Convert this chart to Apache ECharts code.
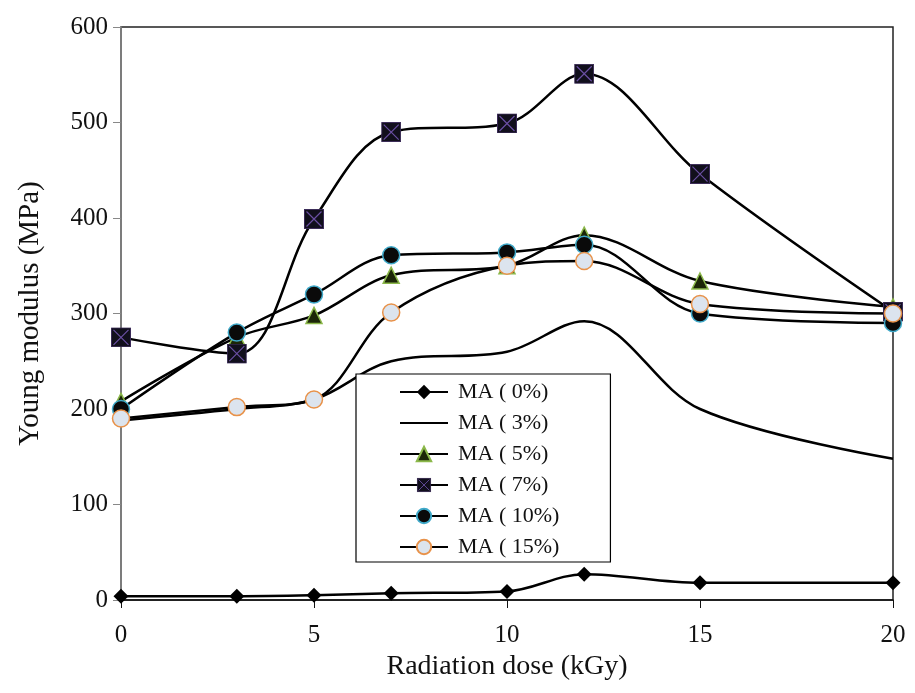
<!DOCTYPE html>
<html>
<head>
<meta charset="utf-8">
<script src="https://cdn.jsdelivr.net/npm/echarts@6/dist/echarts.min.js"></script>
<style>
  html, body { margin: 0; padding: 0; background: #fff; }
  #chart { width: 915px; height: 693px; }
</style>
</head>
<body>
<div id="chart"></div>
<script>
const doses = [0, 3, 5, 7, 10, 12, 15, 20]
const seriesNames = ['MA ( 0%)', 'MA ( 3%)', 'MA ( 5%)', 'MA ( 7%)', 'MA ( 10%)', 'MA ( 15%)']
const ma0 = [4, 4, 5, 7, 9, 27, 18, 18]
const ma3 = [188, 200, 210, 250, 260, 292, 200, 148]
const ma5 = [208, 275, 298, 340, 350, 382, 334, 307]
const ma7 = [275, 258, 399, 490, 499, 551, 446, 302]
const ma10 = [200, 280, 320, 361, 364, 372, 300, 290]
const ma15 = [190, 202, 210, 301, 350, 355, 310, 300]
const xTicks = [0, 5, 10, 15, 20]
const yTicks = [0, 100, 200, 300, 400, 500, 600]

const serif = '"Liberation Serif", "Times New Roman", serif'

// square with an X, drawn as a tiny svg
const squareSvg =
  "<svg xmlns='http://www.w3.org/2000/svg' width='20' height='20'>" +
  "<rect x='0.5' y='0.5' width='19' height='19' fill='#110f1c' stroke='#3a2a58'/>" +
  "<path d='M2.5 2.5L17.5 17.5M17.5 2.5L2.5 17.5' stroke='#6a4fa3' stroke-width='1.2'/></svg>"
const squareSymbol = 'image://data:image/svg+xml;charset=utf-8,' + encodeURIComponent(squareSvg)

function pairs(values) {
  return doses.map((d, i) => [d, values[i]])
}

function lineSeries(name, values, extra) {
  return Object.assign({
    name,
    type: 'line',
    data: pairs(values),
    smooth: 0.35,
    lineStyle: { color: '#000', width: 2.5 },
    itemStyle: { color: '#000' },
  }, extra)
}

// the 3% curve has no markers, so its legend entry is a bare line
const legendData = seriesNames.map(name =>
  name === 'MA ( 3%)' ? { name, itemStyle: { opacity: 0 } } : { name }
)

const chart = echarts.init(document.getElementById('chart'))

chart.setOption({
  animation: false,
  textStyle: { fontFamily: serif },
  grid: {
    left: 121, right: 22, top: 27, bottom: 93,
    show: true, borderColor: '#222', borderWidth: 1.5,
  },
  legend: {
    orient: 'vertical',
    left: 356,
    top: 374,
    data: legendData,
    itemWidth: 48,
    itemHeight: 18,
    itemGap: 9,
    padding: [7, 51, 4, 43],
    borderColor: '#000',
    borderWidth: 1.2,
    backgroundColor: '#fff',
    textStyle: { fontFamily: serif, fontSize: 22, color: '#111', lineHeight: 22, padding: [0, 0, 0, 5] },
  },
  xAxis: {
    type: 'value',
    min: 0,
    max: 20,
    interval: 5,
    name: 'Radiation dose (kGy)',
    nameLocation: 'middle',
    nameGap: 50,
    nameTextStyle: { fontFamily: serif, fontSize: 28, color: '#111' },
    axisLine: { lineStyle: { color: '#111', width: 1.5 } },
    axisTick: { show: true, length: 8, inside: false, lineStyle: { color: '#111' } },
    axisLabel: {
      fontFamily: serif, fontSize: 25, color: '#111', margin: 23,
      formatter: v => xTicks.includes(v) ? String(v) : '',
    },
    splitLine: { show: false },
  },
  yAxis: {
    type: 'value',
    min: 0,
    max: 600,
    interval: 100,
    name: 'Young modulus (MPa)',
    nameLocation: 'middle',
    nameGap: 76,
    nameTextStyle: { fontFamily: serif, fontSize: 29, color: '#111' },
    axisLine: { show: true, lineStyle: { color: '#888', width: 1.5 } },
    axisTick: { show: true, length: 8, lineStyle: { color: '#888' } },
    axisLabel: {
      fontFamily: serif, fontSize: 25, color: '#111', margin: 13,
      formatter: v => yTicks.includes(v) ? String(v) : '',
    },
    splitLine: { show: false },
  },
  series: [
    lineSeries(seriesNames[0], ma0, {
      symbol: 'diamond', symbolSize: 15,
      itemStyle: { color: '#000' },
    }),
    lineSeries(seriesNames[1], ma3, {
      symbol: 'none',
    }),
    lineSeries(seriesNames[2], ma5, {
      symbol: 'triangle', symbolSize: 16,
      itemStyle: { color: '#1c2608', borderColor: '#8bb84a', borderWidth: 1.5 },
    }),
    lineSeries(seriesNames[3], ma7, {
      symbol: squareSymbol, symbolSize: 20,
      itemStyle: { color: '#110f1c' },
    }),
    lineSeries(seriesNames[4], ma10, {
      symbol: 'circle', symbolSize: 17,
      itemStyle: { color: '#0a0a0a', borderColor: '#3fa9c9', borderWidth: 1.5 },
    }),
    lineSeries(seriesNames[5], ma15, {
      symbol: 'circle', symbolSize: 17,
      itemStyle: { color: '#dce4ee', borderColor: '#e8924a', borderWidth: 1.5 },
    }),
  ],
})
</script>
</body>
</html>
